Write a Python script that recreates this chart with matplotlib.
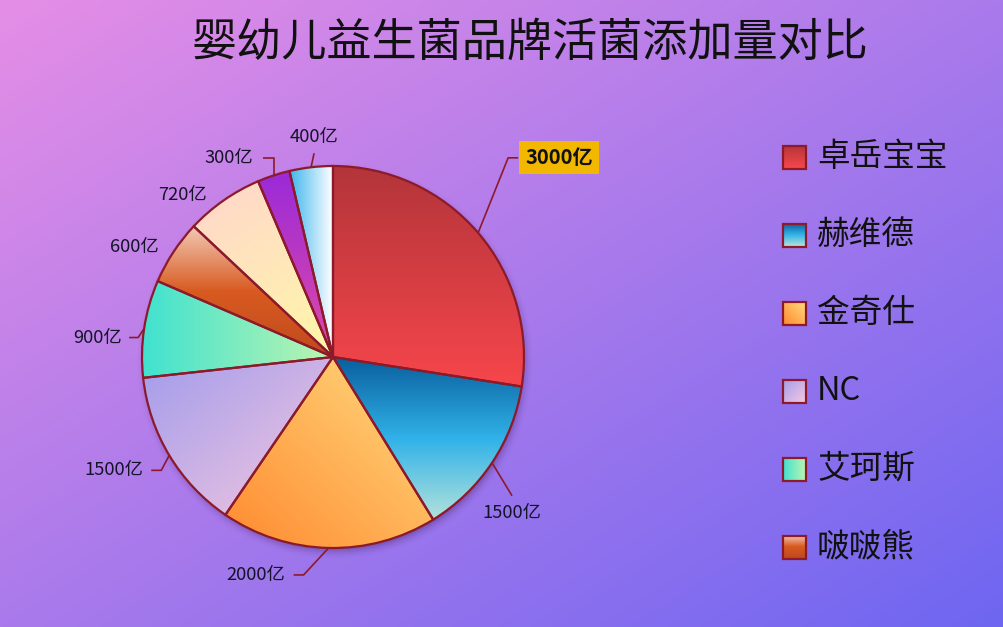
import numpy as np
import matplotlib
matplotlib.use('Agg')
import matplotlib.pyplot as plt
from matplotlib.colors import LinearSegmentedColormap
from matplotlib.patches import Rectangle

plt.rcParams['font.family'] = ['Noto Sans CJK SC', 'DejaVu Sans']

# data (clockwise from 12 o'clock)
values = [3000, 1500, 2000, 1500, 900, 600, 720, 300, 400]
value_labels = ['3000亿', '1500亿', '2000亿', '1500亿', '900亿', '600亿', '720亿', '300亿', '400亿']
legend_names = ['卓岳宝宝', '赫维德', '金奇仕', 'NC', '艾珂斯', '啵啵熊']
title = '婴幼儿益生菌品牌活菌添加量对比'

# gradient fills: (direction in screen coords, colour stops)
fills = [
    ((0, 1), ['#b3353a', '#f6464b']),
    ((0, 1), [(0, '#0a5f9e'), (0.5, '#30b2e8'), (1, '#b2e2dc')]),
    ((1, -1), ['#ff8a30', '#ffdc80']),
    ((1, 1), ['#a39ceb', '#f4c8e0']),
    ((1, 0), ['#40e2d0', '#bcf5b0']),
    ((0, 1), [(0, '#f2c8b4'), (0.5, '#d85a20'), (1, '#c04a1e')]),
    ((0.5, 1), ['#ffd6cc', '#fff7a8']),
    ((0, 1), ['#9a2ad8', '#e04aa8']),
    ((1, 0), ['#3cb6ee', '#ffffff']),
]

# label line layout: knee offset from edge, horizontal run, line?, text align, text offset
label_layout = [
    (30, -75, 10, True, 'left', 7, 0),
    (20, 33, 0, True, 'center', 0, 17),
    (-25, 27, -10, True, 'right', -8, 0),
    (-8, 15, -10, True, 'right', -8, 0),
    (-6, 9, -9, True, 'right', -7, 0),
    (-15, -5, 0, False, 'right', 0, 0),
    (-17, -5, 0, False, 'right', 0, 0),
    (0, -17, -11, True, 'right', -9, 0),
    (3, -14, 0, True, 'center', 0, -16),
]

W, H = 1004, 627
CX, CY, R = 333, 357, 191
EDGE = '#8c1a2a'
TEXT = '#141428'


def make_cmap(stops):
    return LinearSegmentedColormap.from_list('g', stops)


def gradient_image(ax, x0, x1, y0, y1, direction, stops, zorder, clip=None):
    u = np.linspace(0, 1, 80)
    uu, vv = np.meshgrid(u, u)
    dx, dy = direction
    t = uu * dx + vv * dy
    t = (t - t.min()) / (t.max() - t.min())
    im = ax.imshow(t, cmap=make_cmap(stops), extent=(x0, x1, y1, y0), origin='upper',
                   interpolation='bilinear', zorder=zorder, aspect='auto')
    if clip is not None:
        im.set_clip_path(clip)
    return im


fig = plt.figure(figsize=(W / 100, H / 100), dpi=100)
ax = fig.add_axes([0, 0, 1, 1])

# background diagonal gradient
xs = np.linspace(0, 1, 200)
ys = np.linspace(0, 1, 125)
gx, gy = np.meshgrid(xs, ys)
tb = (gx + gy) / 2
c0 = np.array([229, 142, 230]) / 255
c1 = np.array([110, 102, 241]) / 255
bg = c0[None, None, :] * (1 - tb[..., None]) + c1[None, None, :] * tb[..., None]
ax.imshow(bg, extent=(0, W, H, 0), origin='upper', interpolation='bilinear', zorder=0, aspect='auto')

# soft shadow under the pie
m = R + 24
sx = np.linspace(CX - m, CX + m, 300)
sy = np.linspace(CY - m, CY + m, 300)
sxx, syy = np.meshgrid(sx, sy)
d = np.hypot(sxx - (CX + 2), syy - (CY + 4))
alpha = 0.55 * np.clip(1 - (d - (R - 6)) / 15, 0, 1) ** 2
shadow = np.zeros((300, 300, 4))
shadow[..., 0] = 0.2
shadow[..., 1] = 0.08
shadow[..., 2] = 0.3
shadow[..., 3] = alpha
ax.imshow(shadow, extent=(CX - m, CX + m, CY + m, CY - m), origin='upper', zorder=1, aspect='auto')

# pie (y axis is inverted, so counterclock=True draws clockwise on screen)
wedges, _ = ax.pie(values, startangle=-90, counterclock=True, center=(CX, CY), radius=R,
                   wedgeprops=dict(facecolor='none', edgecolor=EDGE, linewidth=1.6, zorder=3))

for w, (direction, stops) in zip(wedges, fills):
    ext = w.get_path().get_extents()
    gradient_image(ax, ext.x0, ext.x1, ext.y0, ext.y1, direction, stops, 2, clip=w)

# value labels with leader lines
for i, (w, lab) in enumerate(zip(wedges, value_labels)):
    th = np.deg2rad((w.theta1 + w.theta2) / 2)
    ex, ey = CX + R * np.cos(th), CY + R * np.sin(th)
    kdx, kdy, hrun, show, ha, tdx, tdy = label_layout[i]
    kx, ky = ex + kdx, ey + kdy
    endx = kx + hrun
    if show:
        ax.plot([ex, kx, endx], [ey, ky, ky], color=EDGE, lw=1.2, zorder=4,
                solid_capstyle='butt')
    tx, ty = endx + tdx, ky + tdy
    if i == 0:
        ax.text(tx, ty, lab, ha=ha, va='center', fontsize=14.5, fontweight='bold', color='#111111',
                zorder=5, bbox=dict(boxstyle='square,pad=0.3', fc='#f2b700', ec='none'))
    else:
        ax.text(tx, ty, lab, ha=ha, va='center', fontsize=13.2, color=TEXT, zorder=5)

# legend
ly0, lstep, sq = 157, 78, 23
for j, name in enumerate(legend_names):
    yc = ly0 + j * lstep
    direction, stops = fills[j]
    gradient_image(ax, 783, 783 + sq, yc - sq / 2, yc + sq / 2, direction, stops, 3)
    ax.add_patch(Rectangle((783, yc - sq / 2), sq, sq, fc='none', ec=EDGE, lw=1.6, zorder=4))
    ax.text(817, yc, name, ha='left', va='center', fontsize=23.5, color='#111111', zorder=5)

ax.text(530, 43, title, ha='center', va='center', fontsize=32.5, color='#111111', zorder=5)

ax.set_xlim(0, W)
ax.set_ylim(H, 0)
ax.set_aspect('auto')
ax.axis('off')

fig.savefig('out.png', dpi=100)
